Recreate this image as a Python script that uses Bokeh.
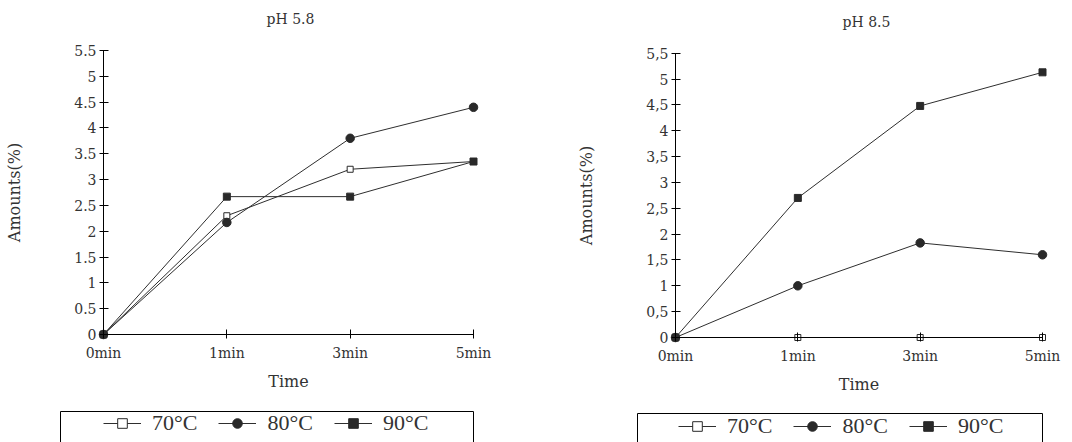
from bokeh.plotting import figure
from bokeh.layouts import row
from bokeh.models import FixedTicker, Legend, LegendItem, BoxAnnotation, Label, Range1d
from bokeh.embed import file_html
from bokeh.resources import INLINE

# ---------------- data ----------------
times = ["0min", "1min", "3min", "5min"]
y_ticks = [0, 0.5, 1, 1.5, 2, 2.5, 3, 3.5, 4, 4.5, 5, 5.5]
y_labels_58 = ["0", "0.5", "1", "1.5", "2", "2.5", "3", "3.5", "4", "4.5", "5", "5.5"]
y_labels_85 = ["0", "0,5", "1", "1,5", "2", "2,5", "3", "3,5", "4", "4,5", "5", "5,5"]
series_names = ["70°C", "80°C", "90°C"]

ph58_70 = [0, 2.30, 3.20, 3.35]
ph58_80 = [0, 2.17, 3.80, 4.40]
ph58_90 = [0, 2.67, 2.67, 3.35]

ph85_70 = [0, 0, 0, 0]
ph85_80 = [0, 1.00, 1.83, 1.60]
ph85_90 = [0, 2.70, 4.48, 5.13]

LINE = "#2e2e2e"
MK = "#292929"
TXT = "#333333"
SERIF = "DejaVu Serif"
W, H = 536, 442
YMAX = 5.5


def panel(title, s70, s80, s90, ylabels, ax0, ax3, ay0, aytop, title_xy, leg_xy, box):
    # pixel geometry of the axes inside the (full-canvas) frame
    xs = list(range(len(times)))
    nx = len(times) - 1
    ppx = (ax3 - ax0) / nx
    ppy = (ay0 - aytop) / YMAX
    xr = Range1d(-ax0 / ppx, nx + (W - ax3) / ppx)
    yr = Range1d(-(H - ay0) / ppy, YMAX + aytop / ppy)

    p = figure(width=W, height=H, x_range=xr, y_range=yr,
               output_backend="svg", toolbar_location=None,
               min_border_left=0, min_border_right=0, min_border_top=0,
               min_border_bottom=0, outline_line_color=None,
               background_fill_color="white", border_fill_color="white")

    p.xgrid.visible = False
    p.ygrid.visible = False

    p.xaxis.ticker = FixedTicker(ticks=xs)
    p.xaxis.major_label_overrides = {i: t for i, t in enumerate(times)}
    p.yaxis.ticker = FixedTicker(ticks=y_ticks)
    p.yaxis.major_label_overrides = {v: l for v, l in zip(y_ticks, ylabels)}
    p.xaxis.fixed_location = 0
    p.yaxis.fixed_location = 0
    p.xaxis.bounds = (0, nx)
    p.yaxis.bounds = (0, YMAX)
    p.xaxis.axis_label = "Time"
    p.yaxis.axis_label = "Amounts(%)"
    for ax in (p.xaxis, p.yaxis):
        ax.axis_line_color = "black"
        ax.axis_line_width = 1
        ax.major_tick_line_color = "black"
        ax.major_tick_in = 5
        ax.major_tick_out = 4
        ax.minor_tick_line_color = None
        ax.major_label_text_font = SERIF
        ax.major_label_text_font_size = "14px"
        ax.major_label_text_color = TXT
        ax.major_label_standoff = 3
        ax.axis_label_text_font = SERIF
        ax.axis_label_text_font_size = "16px"
        ax.axis_label_text_font_style = "normal"
        ax.axis_label_text_color = TXT
    p.xaxis.major_label_standoff = 6
    p.xaxis.axis_label_standoff = 8
    p.yaxis.axis_label_standoff = 47

    p.add_layout(Label(x=title_xy[0], y=title_xy[1], x_units="screen", y_units="screen",
                       text=title, text_font=SERIF, text_font_size="14px",
                       text_color=TXT, text_align="center", text_baseline="middle"))

    l70 = p.line(xs, s70, line_color=LINE, line_width=1)
    m70 = p.scatter(xs, s70, marker="square", size=6, fill_color="white",
                    line_color=MK, line_width=1)
    l80 = p.line(xs, s80, line_color=LINE, line_width=1)
    m80 = p.scatter(xs, s80, marker="circle", size=8.5, fill_color=MK, line_color=MK)
    l90 = p.line(xs, s90, line_color=LINE, line_width=1)
    m90 = p.scatter(xs, s90, marker="square", size=7, fill_color=MK, line_color=MK)

    items = [LegendItem(label=series_names[0], renderers=[l70, m70]),
             LegendItem(label=series_names[1], renderers=[l80, m80]),
             LegendItem(label=series_names[2], renderers=[l90, m90])]
    leg = Legend(items=items, orientation="horizontal", location=leg_xy,
                 padding=0, margin=0, spacing=21, glyph_width=38, glyph_height=24,
                 label_height=24, label_standoff=11,
                 label_text_font="Liberation Serif", label_text_font_size="22px",
                 label_text_color=TXT, border_line_color=None,
                 background_fill_alpha=0)
    p.add_layout(leg)
    p.add_layout(BoxAnnotation(left=box[0], right=box[1], top=box[2], bottom=box[3],
                               left_units="canvas", right_units="canvas",
                               top_units="canvas", bottom_units="canvas",
                               fill_alpha=0, line_color="black", line_width=1,
                               line_alpha=1))
    return p


p1 = panel("pH 5.8", ph58_70, ph58_80, ph58_90, y_labels_58,
           103, 473, 334, 50, (290, H - 18), (103, 6), (60, 473, 411, 470))
p2 = panel("pH 8.5", ph85_70, ph85_80, ph85_90, y_labels_85,
           139, 506, 337, 52.7, (866 - 536, H - 21), (142, 3), (101, 506, 413, 470))

layout = row(p1, p2)
open("out.html", "w").write(file_html(layout, INLINE))
